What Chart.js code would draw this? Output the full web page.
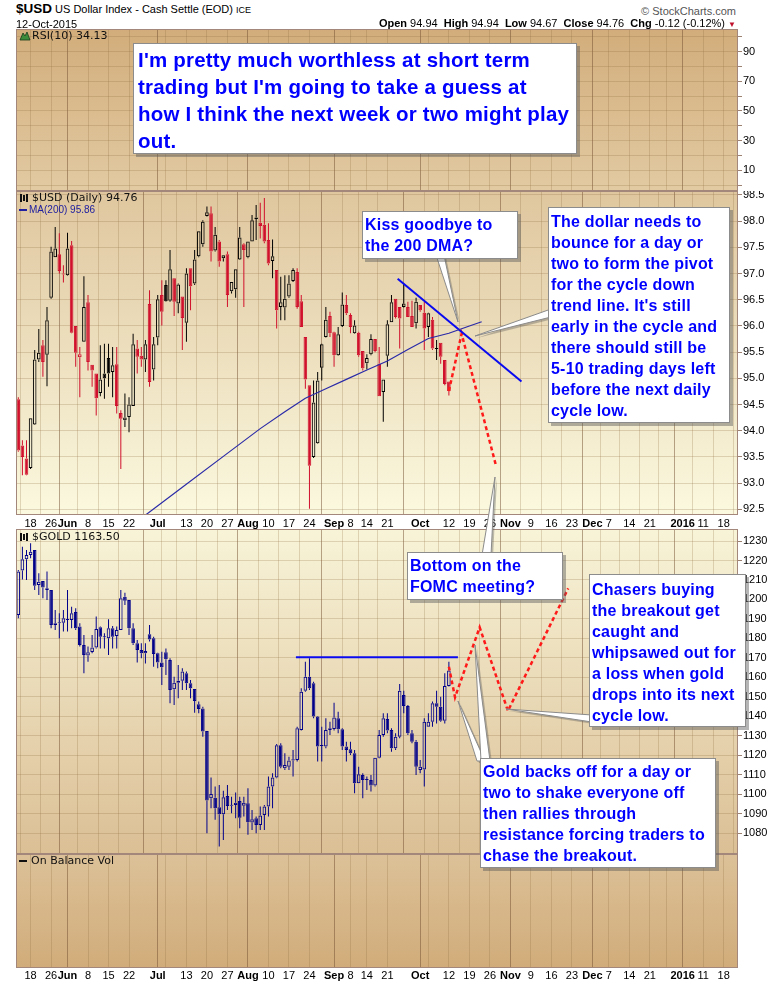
<!DOCTYPE html>
<html><head><meta charset="utf-8">
<script src="https://cdn.jsdelivr.net/npm/chart.js@4.4.1/dist/chart.umd.min.js"></script>
<style>
html,body{margin:0;padding:0;background:#fff;}
#wrap{position:relative;width:780px;height:983px;overflow:hidden;font-family:"Liberation Sans",Arial,sans-serif;color:#000;}
canvas{position:absolute;left:0;z-index:1;}
.t{position:absolute;white-space:nowrap;z-index:2;}
.lg{position:absolute;white-space:nowrap;z-index:2;font-family:"DejaVu Sans",Verdana,sans-serif;font-size:11px;line-height:12px;color:#111;}
.box{position:absolute;z-index:4;background:#fff;border:1px solid #8c8c8c;box-shadow:3px 3px 0 rgba(90,90,90,0.45);color:#0000ff;font-weight:bold;font-size:16px;line-height:21px;letter-spacing:0.2px;box-sizing:border-box;white-space:nowrap;}
svg.ov{position:absolute;left:0;top:0;z-index:3;}
</style></head><body><div id="wrap">
<canvas id="cR" width="780" height="162" style="top:29px"></canvas>
<canvas id="cU" width="780" height="338" style="top:191px"></canvas>
<canvas id="cG" width="780" height="325" style="top:529px"></canvas>
<canvas id="cO" width="780" height="129" style="top:854px"></canvas>

<div class="t" style="left:16px;top:1px;line-height:16px;font-size:11px;"><b style="font-size:13.5px">$USD</b> US Dollar Index - Cash Settle (EOD) <span style="font-size:9px">ICE</span></div>
<div class="t" style="left:16px;top:18px;line-height:12px;font-size:11px;">12-Oct-2015</div>
<div class="t" style="right:44px;top:5px;line-height:12px;font-size:11px;color:#555;">&copy; StockCharts.com</div>
<div class="t" style="right:44px;top:17px;line-height:12px;font-size:11px;"><b>Open</b> 94.94 &nbsp;<b>High</b> 94.94 &nbsp;<b>Low</b> 94.67 &nbsp;<b>Close</b> 94.76 &nbsp;<b>Chg</b> -0.12 (-0.12%) <span style="color:#c0102c;font-size:8px;">&#9660;</span></div>

<svg class="ov" style="z-index:2" width="780" height="983">
 <polygon points="20,40 23,33 25,36 27,32 30,40" fill="#3c8c3c" stroke="#1a3a1a" stroke-width="0.8"/>
 <g fill="#111"><rect x="20" y="194" width="2" height="8"/><rect x="23" y="195" width="2" height="6"/><rect x="26" y="194" width="2" height="8"/></g>
 <g fill="#111"><rect x="20" y="533" width="2" height="8"/><rect x="23" y="534" width="2" height="6"/><rect x="26" y="533" width="2" height="8"/></g>
</svg>
<div class="lg" style="left:32px;top:30px;">RSI(10) 34.13</div>
<div class="lg" style="left:32px;top:192px;">$USD (Daily) 94.76</div>
<div class="t" style="left:19px;top:209px;width:8px;height:2px;background:#2020a0;"></div>
<div class="t" style="left:29px;top:204px;font-size:10px;line-height:12px;color:#2020a0;">MA(200) 95.86</div>
<div class="lg" style="left:32px;top:531px;">$GOLD 1163.50</div>
<div class="t" style="left:19px;top:860px;width:8px;height:2px;background:#111;"></div>
<div class="lg" style="left:31px;top:855px;">On Balance Vol</div>

<svg class="ov" width="780" height="983">
 <g fill="rgba(80,80,80,0.35)" transform="translate(2,2)">
  <polygon points="436,255 444,255 458,322"/>
  <polygon points="551,309 551,317 475,336"/>
  <polygon points="482,555 491,555 495,477"/>
  <polygon points="592,715 592,722 506,709"/>
  <polygon points="477,761 485,761 458,701"/>
  <polygon points="481,761 490,761 475,645"/>
 </g>
 <g fill="#fff" stroke="#8a8a8a" stroke-width="1">
  <polygon points="436,255 444,255 458,322"/>
  <polygon points="551,309 551,317 475,336"/>
  <polygon points="482,555 491,555 495,477"/>
  <polygon points="592,715 592,722 506,709"/>
  <polygon points="477,761 485,761 458,701"/>
  <polygon points="481,761 490,761 475,645"/>
 </g>
</svg>

<div class="box" style="left:133px;top:43px;width:444px;height:111px;padding:2px 0 0 4px;font-size:20.5px;line-height:27px;letter-spacing:0.2px;">I'm pretty much worthless at short term<br>trading but I'm going to take a guess at<br>how I think the next week or two might play<br>out.</div>
<div class="box" style="left:362px;top:211px;width:156px;height:48px;padding:2px 0 0 2px;">Kiss goodbye to<br>the 200 DMA?</div>
<div class="box" style="left:548px;top:207px;width:182px;height:216px;padding:3px 0 0 2px;">The dollar needs to<br>bounce for a day or<br>two to form the pivot<br>for the cycle down<br>trend line. It's still<br>early in the cycle and<br>there should still be<br>5-10 trading days left<br>before the next daily<br>cycle low.</div>
<div class="box" style="left:407px;top:552px;width:156px;height:48px;padding:2px 0 0 2px;">Bottom on the<br>FOMC meeting?</div>
<div class="box" style="left:589px;top:574px;width:157px;height:153px;padding:4px 0 0 2px;">Chasers buying<br>the breakout get<br>caught and<br>whipsawed out for<br>a loss when gold<br>drops into its next<br>cycle low.</div>
<div class="box" style="left:480px;top:758px;width:236px;height:110px;padding:2px 0 0 2px;">Gold backs off for a day or<br>two to shake everyone off<br>then rallies through<br>resistance forcing traders to<br>chase the breakout.</div>
</div>
<script>
// ---------- x axis: trading-day index (0 = 13-May-2015) ----------
const tickIdx=[3,8,12,17,22,27,34,36,41,46,51,56,61,66,71,77,81,85,90,98,100,105,110,115,120,125,130,135,140,144,149,154,158,162,167,172];
const tickLabels=['18','26','Jun','8','15','22','Jul','','13','20','27','Aug','10','17','24','Sep','8','14','21','Oct','','12','19','26','Nov','9','16','23','Dec','7','14','21','','2016','11','18'];
const monthIdx=[12,34,56,77,98,120,140,162];

// ---------- $USD daily OHLC ----------
const usdOpen=[94.60,93.72,93.47,93.29,94.12,95.36,95.63,95.45,96.54,97.31,97.37,97.00,96.97,97.54,96.00,95.40,95.70,96.45,95.26,95.09,94.72,95.09,95.39,95.12,95.27,94.34,94.20,94.26,94.47,95.57,95.43,95.36,96.42,95.17,95.78,96.59,96.78,96.48,96.91,96.43,96.56,96.06,97.10,96.81,97.33,97.56,98.10,98.15,97.44,97.61,97.29,97.37,96.66,96.70,97.27,97.56,97.31,97.61,98.07,97.97,97.93,97.64,97.24,97.07,96.36,96.35,96.56,96.86,97.03,96.47,95.79,94.87,93.50,93.76,95.20,95.79,96.19,95.88,95.44,96.00,96.40,96.21,95.86,95.87,95.52,95.29,95.46,95.75,95.28,94.74,95.43,96.07,96.52,96.36,96.36,96.36,96.19,96.05,96.40,96.25,95.98,96.12,95.56,95.68,95.35,94.94];
const usdHigh=[94.64,93.82,93.82,94.24,95.54,95.94,95.73,96.36,97.51,97.89,97.77,97.16,97.78,97.62,96.00,95.60,96.95,96.59,95.26,95.09,95.63,95.66,95.66,95.60,95.60,94.39,94.71,94.64,95.85,95.73,95.60,95.73,96.68,95.79,96.59,96.87,96.87,97.45,96.91,96.81,96.56,97.10,97.10,97.45,97.81,98.02,98.28,98.28,97.89,97.64,97.35,97.42,96.84,97.08,97.89,97.58,97.61,98.12,98.31,98.35,98.44,97.96,97.65,97.07,96.94,96.97,96.97,97.10,97.10,96.59,95.79,94.87,94.96,95.12,95.66,96.36,96.27,95.89,95.98,96.64,96.59,96.24,96.11,95.89,95.52,95.46,95.84,95.75,95.60,94.98,96.11,96.59,96.52,96.36,96.81,96.46,96.48,96.54,96.40,96.46,96.25,96.17,95.73,95.68,95.35,94.94];
const usdLow=[93.60,93.15,93.15,93.27,94.11,95.31,95.03,94.85,96.52,97.31,97.00,96.83,96.96,95.86,95.22,94.64,95.70,95.15,94.84,94.29,94.66,94.61,94.84,94.64,94.33,93.27,94.07,93.97,94.47,95.09,95.22,95.12,94.84,94.96,95.63,96.01,96.46,96.46,96.19,96.24,95.54,95.70,96.30,96.78,97.31,97.51,98.09,97.23,97.42,97.13,97.23,96.36,96.62,96.54,97.26,96.36,97.29,97.61,97.64,97.67,97.58,97.16,96.91,95.95,96.11,96.11,96.54,96.84,96.33,95.98,94.80,92.51,93.48,93.75,94.96,95.78,95.79,95.22,95.43,95.98,96.21,95.86,95.85,95.41,95.15,95.17,95.44,95.50,94.66,94.17,95.22,96.07,96.14,95.57,96.35,96.17,95.98,95.95,96.27,95.54,95.79,95.54,95.35,95.28,94.87,94.67];
const usdClose=[93.62,93.50,93.16,94.24,95.36,95.49,95.31,96.11,97.42,97.48,97.05,96.98,97.48,95.87,95.49,95.46,96.36,95.31,95.15,94.62,94.98,95.00,95.09,95.25,94.47,94.23,94.25,94.50,95.65,95.41,95.36,95.65,94.93,95.65,96.51,96.27,96.47,97.08,96.46,96.79,96.15,97.00,96.76,97.27,97.81,97.99,98.17,97.42,97.74,97.23,97.35,96.59,96.84,97.08,97.69,97.45,97.61,98.02,98.04,97.91,97.61,97.19,97.33,96.30,96.45,96.52,96.81,97.07,96.36,95.98,94.98,93.33,94.54,94.96,95.65,96.12,95.86,95.44,95.84,96.41,96.24,95.98,96.01,95.44,95.19,95.39,95.75,95.52,94.66,94.98,96.03,96.45,96.17,96.14,96.43,96.17,95.98,96.46,96.30,95.95,96.24,95.57,95.58,95.41,94.89,94.76];

// MA(200)
const maIdx=[30,40,50,59,65,70,75,80,85,90,95,100,105,110,113];
const maVal=[92.33,92.92,93.51,94.04,94.36,94.62,94.80,94.98,95.16,95.33,95.55,95.76,95.86,96.00,96.08];
// hand-drawn lines (USD)
const usdTrendIdx=[92.5,122.7], usdTrendVal=[96.90,94.94];
const usdProjIdx=[105,108.1,116.5], usdProjVal=[94.76,95.85,93.33];

// ---------- $GOLD daily OHLC ----------
const goldOpen=[1192.0,1214.8,1220.6,1222.8,1225.4,1207.4,1209.5,1205.7,1204.9,1187.8,1187.8,1188.1,1189.5,1189.5,1193.6,1186.1,1176.6,1171.2,1173.0,1175.3,1185.7,1180.6,1180.1,1185.2,1181.3,1184.3,1201.4,1199.7,1185.2,1177.5,1174.1,1172.4,1182.1,1180.1,1172.4,1167.6,1172.9,1168.9,1153.9,1157.3,1158.3,1162.1,1157.0,1154.1,1146.2,1144.1,1132.5,1098.0,1098.3,1093.4,1089.8,1099.2,1094.2,1094.5,1096.6,1094.2,1095.4,1085.5,1087.7,1084.3,1089.4,1093.7,1104.0,1108.7,1125.2,1113.4,1114.2,1117.3,1117.6,1133.0,1153.2,1160.4,1157.0,1139.9,1124.8,1124.5,1133.0,1133.5,1139.0,1133.4,1124.5,1123.1,1121.1,1105.7,1109.9,1107.4,1107.4,1104.5,1118.8,1130.5,1138.7,1133.0,1123.6,1129.6,1151.0,1145.3,1131.3,1127.0,1112.5,1112.8,1134.7,1137.3,1146.7,1145.0,1137.8,1155.6];
const goldHigh=[1215.1,1227.1,1225.4,1228.8,1225.4,1213.4,1209.5,1214.3,1204.9,1194.6,1192.9,1194.6,1204.9,1196.3,1195.5,1187.8,1181.8,1175.8,1181.8,1191.2,1186.1,1182.6,1189.8,1186.4,1186.1,1204.9,1203.5,1199.7,1187.8,1179.2,1177.5,1177.5,1186.9,1180.9,1172.7,1173.2,1174.9,1169.8,1160.4,1166.4,1164.7,1163.0,1158.7,1154.1,1147.6,1145.0,1132.5,1108.6,1104.0,1104.8,1101.9,1104.8,1098.8,1100.9,1098.8,1098.8,1103.1,1092.0,1088.6,1093.7,1094.5,1109.1,1110.8,1125.8,1126.2,1121.1,1119.3,1122.8,1134.7,1154.4,1168.1,1169.8,1157.8,1140.2,1134.7,1139.0,1137.3,1147.0,1142.4,1133.9,1127.0,1127.0,1122.8,1114.2,1110.8,1109.1,1109.9,1118.8,1133.0,1141.6,1141.6,1133.9,1131.3,1156.6,1153.2,1145.9,1133.0,1127.9,1117.6,1139.0,1141.6,1147.6,1153.2,1150.1,1162.1,1168.1];
const goldLow=[1190.3,1210.3,1210.0,1221.1,1204.9,1202.3,1200.6,1199.7,1185.2,1184.3,1180.1,1183.5,1183.5,1185.2,1184.3,1175.8,1162.1,1168.1,1172.4,1174.9,1174.9,1174.9,1171.5,1174.9,1174.9,1184.3,1197.2,1181.8,1176.6,1167.6,1169.8,1167.2,1178.4,1165.5,1164.7,1156.1,1161.2,1146.7,1145.9,1149.3,1153.6,1153.6,1149.3,1141.9,1141.6,1129.6,1080.0,1092.8,1086.9,1073.2,1076.6,1092.0,1090.3,1087.7,1082.6,1088.6,1079.2,1081.7,1080.0,1081.7,1081.7,1088.6,1092.8,1108.2,1113.4,1112.5,1112.5,1109.1,1116.8,1132.7,1152.7,1153.6,1139.0,1116.8,1116.8,1123.6,1130.5,1132.7,1131.3,1122.8,1116.8,1120.2,1100.5,1105.7,1098.0,1102.2,1101.4,1104.0,1118.5,1129.6,1131.3,1121.9,1122.8,1128.8,1141.6,1130.5,1126.2,1109.9,1110.8,1104.0,1134.7,1134.7,1136.4,1137.3,1136.4,1155.3];
const goldClose=[1214.3,1220.6,1222.8,1224.5,1207.1,1209.1,1206.2,1204.9,1186.9,1186.9,1188.3,1190.3,1189.8,1192.9,1185.2,1176.6,1171.5,1172.9,1175.3,1184.8,1180.9,1180.9,1185.2,1180.9,1184.3,1200.6,1199.4,1185.2,1177.5,1174.1,1172.4,1173.6,1179.5,1172.0,1167.6,1165.2,1169.3,1153.6,1157.3,1158.3,1163.0,1157.0,1154.4,1147.9,1143.8,1132.2,1096.8,1100.2,1092.8,1089.8,1098.5,1094.0,1094.5,1095.7,1088.0,1095.7,1085.7,1087.2,1084.3,1089.1,1093.7,1104.0,1108.7,1125.2,1114.2,1115.1,1117.3,1118.0,1133.9,1152.7,1160.4,1154.4,1139.9,1124.5,1125.2,1133.0,1133.9,1139.4,1133.4,1124.5,1122.8,1121.1,1105.7,1110.3,1107.4,1107.7,1104.5,1118.8,1130.5,1139.0,1132.7,1123.6,1129.6,1153.2,1145.3,1131.3,1127.0,1114.2,1114.2,1137.3,1137.3,1146.7,1145.0,1137.8,1155.6,1163.5];
// hand-drawn lines (gold)
const goldResIdx=[67.7,107.2], goldResVal=[1170.3,1170.3];
const goldProjIdx=[105,106.5,112.5,119.4,134.1], goldProjVal=[1165.5,1149.8,1185.7,1142.8,1205.7];

// ---------- y-axis ticks ----------
const rsiTicks=[0,10,20,30,40,50,60,70,80,90,100], rsiLabeled=[10,30,50,70,90];
const usdTicks=[92.5,93,93.5,94,94.5,95,95.5,96,96.5,97,97.5,98,98.5];
const goldTicks=[1080,1090,1100,1110,1120,1130,1140,1150,1160,1170,1180,1190,1200,1210,1220,1230];

// ---------- helpers ----------
const FONT='"Liberation Sans", Arial, sans-serif';
const X_MIN=-0.56, X_MAX=175.5;
const RED='#d0102c', NAVY='#00008b';
const GRID='rgba(140,105,60,0.24)', MGRID='rgba(115,80,50,0.5)';

const framePlugin={id:'frame',
 beforeDraw(chart,args,opts){const {ctx,chartArea:a}=chart;const g=ctx.createLinearGradient(0,a.top,0,a.bottom);g.addColorStop(0,opts.top);g.addColorStop(1,opts.bottom);ctx.save();ctx.fillStyle=g;ctx.fillRect(a.left,a.top,a.right-a.left,a.bottom-a.top);ctx.restore();},
 afterDraw(chart){const {ctx,chartArea:a}=chart;ctx.save();ctx.strokeStyle='#a3877a';ctx.lineWidth=1;ctx.strokeRect(Math.round(a.left)+0.5,Math.round(a.top)+0.5,Math.round(a.right-a.left)-1,Math.round(a.bottom-a.top)-1);ctx.restore();}
};

function xAxis(labels,h,pad){
 return {type:'linear',min:X_MIN,max:X_MAX,offset:false,
  afterBuildTicks:s=>{s.ticks=tickIdx.map(v=>({value:v}));},
  afterFit:s=>{s.height=h;s.paddingLeft=0;s.paddingRight=0;},
  border:{display:false},
  grid:{drawTicks:false,lineWidth:1,color:c=>(c.tick&&monthIdx.includes(c.tick.value))?MGRID:GRID},
  ticks:{display:labels,autoSkip:false,maxRotation:0,minRotation:0,padding:pad,color:'#000',
   callback:(v,i)=>tickLabels[i],
   font:c=>({family:FONT,size:11,weight:monthIdx.includes(tickIdx[c.index])?'bold':'normal'})}
 };
}
function yAxis(min,max,vals,fmt,show){
 return {type:'linear',position:'right',min,max,
  afterBuildTicks:s=>{s.ticks=vals.map(v=>({value:v}));},
  afterFit:s=>{s.width=42;s.paddingTop=0;s.paddingBottom=0;},
  border:{display:false},
  grid:{display:show,color:GRID,tickLength:4,tickColor:'#9c8070',lineWidth:1},
  ticks:{display:show,autoSkip:false,padding:1,color:'#000',font:{family:FONT,size:11},callback:fmt}
 };
}
function pts(xs,ys){return xs.map((x,i)=>({x,y:ys[i]}));}
function candles(o,h,l,c,colorOf){
 const idx=o.map((_,i)=>i);
 const col=idx.map(colorOf);
 const base={type:'bar',grouped:false,inflateAmount:0,borderSkipped:false};
 return [
  Object.assign({},base,{order:3,barThickness:1,borderWidth:0,backgroundColor:col,
   data:idx.map(i=>({x:i,y:[Math.max(o[i],c[i]),h[i]]}))}),
  Object.assign({},base,{order:3,barThickness:1,borderWidth:0,backgroundColor:col,
   data:idx.map(i=>({x:i,y:[l[i],Math.min(o[i],c[i])]}))}),
  Object.assign({},base,{order:2,barThickness:3.6,borderWidth:1,minBarLength:1,borderColor:col,
   backgroundColor:idx.map(i=>c[i]>o[i]?'rgba(0,0,0,0)':col[i]),
   data:idx.map(i=>({x:i,y:[o[i],c[i]]}))})
 ];
}
function lineSet(xs,ys,color,w,dash){
 return {type:'line',order:0,data:pts(xs,ys),borderColor:color,borderWidth:w,borderDash:dash||[],pointRadius:0,tension:0,fill:false};
}
function baseOpts(xs,ys,grad){
 return {responsive:false,animation:false,events:[],
  layout:{padding:{left:16,right:0,top:0,bottom:0}},
  plugins:{legend:{display:false},tooltip:{enabled:false},frame:grad},
  scales:{x:xs,y:ys}};
}

// RSI panel (frame only)
new Chart(document.getElementById('cR'),{type:'line',data:{datasets:[]},plugins:[framePlugin],
 options:baseOpts(xAxis(false,0,0),yAxis(-3.96,105.3,rsiTicks,v=>rsiLabeled.includes(v)?String(v):'',true),{top:'#d2ad7b',bottom:'#e2caa2'})});

// USD panel
const usdSets=candles(usdOpen,usdHigh,usdLow,usdClose,i=>(i>0&&usdClose[i]>=usdClose[i-1])?'#000':RED);
new Chart(document.getElementById('cU'),{type:'bar',plugins:[framePlugin],
 data:{datasets:[
  lineSet(maIdx,maVal,'#2a2aa8',1.2),
  lineSet(usdTrendIdx,usdTrendVal,'#0a0af0',2),
  lineSet(usdProjIdx,usdProjVal,'#ff1a1a',2.5,[4,3]),
  ...usdSets]},
 options:baseOpts(xAxis(true,14,2),yAxis(92.391,98.576,usdTicks,v=>v.toFixed(1),true),{top:'#dfc69e',bottom:'#fbf9df'})});

// GOLD panel
const goldSets=candles(goldOpen,goldHigh,goldLow,goldClose,()=>NAVY);
new Chart(document.getElementById('cG'),{type:'bar',plugins:[framePlugin],
 data:{datasets:[
  lineSet(goldResIdx,goldResVal,'#0a0af0',2),
  lineSet(goldProjIdx,goldProjVal,'#ff1a1a',2.5,[4,3]),
  ...goldSets]},
 options:baseOpts(xAxis(false,0,0),yAxis(1069.38,1236.16,goldTicks,v=>String(v),true),{top:'#f8f4d8',bottom:'#dbbf95'})});

// On Balance Volume panel (empty)
new Chart(document.getElementById('cO'),{type:'line',data:{datasets:[]},plugins:[framePlugin],
 options:baseOpts(xAxis(true,15,1),yAxis(0,1,[],()=>'',false),{top:'#dcc198',bottom:'#d1ac7a'})});
</script>
</body></html>
